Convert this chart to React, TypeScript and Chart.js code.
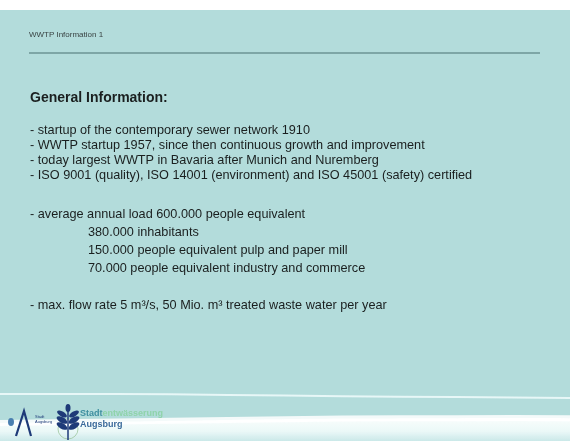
import React, { useEffect, useRef } from "react";
import { Chart, registerables } from "chart.js";

Chart.register(...registerables);

// decorative wave data (x position 0..10, height in % of slide from bottom)
const waveX = [0, 2, 4, 6, 8, 10];
const thinWave = [10.9, 10.9, 10.7, 10.4, 10.2, 10.0];
const bottomWave = [4.2, 4.5, 4.9, 5.2, 5.3, 5.3];

const headerText = "WWTP Information 1";
const titleText = "General Information:";
const bulletsA = [
  "- startup of the contemporary sewer network 1910",
  "- WWTP startup 1957, since then continuous growth and improvement",
  "- today largest WWTP in Bavaria after Munich and Nuremberg",
  "- ISO 9001 (quality), ISO 14001 (environment) and ISO 45001 (safety) certified",
];
const loadMain = "- average annual load 600.000 people equivalent";
const loadSub = [
  "380.000 inhabitants",
  "150.000 people equivalent pulp and paper mill",
  "70.000 people equivalent industry and commerce",
];
const flowText = "- max. flow rate 5 m³/s, 50 Mio. m³ treated waste water per year";

const SLIDE_W = 570;
const SLIDE_H = 431;
const BG = "#b3dcdb";
const FONT = "'Liberation Sans', Arial, sans-serif";
const TXT = "#1a1f1f";

function Line({ text, x, cy, size = 12.7, bold = false, color = TXT }: any) {
  return (
    <div
      style={{
        position: "absolute",
        left: x,
        top: cy - 10,
        height: 20,
        lineHeight: "20px",
        fontSize: size,
        fontWeight: bold ? 700 : 400,
        fontFamily: FONT,
        color,
        whiteSpace: "nowrap",
      }}
    >
      {text}
    </div>
  );
}

export default function App() {
  const ref = useRef<HTMLCanvasElement | null>(null);

  useEffect(() => {
    document.body.style.margin = "0";
    const canvas = ref.current!;
    const ctx = canvas.getContext("2d")!;
    const grad = ctx.createLinearGradient(0, SLIDE_H - 24, 0, SLIDE_H);
    grad.addColorStop(0, "rgba(255,255,255,0.95)");
    grad.addColorStop(0.6, "rgba(238,249,249,0.95)");
    grad.addColorStop(1, "rgba(205,234,234,0.9)");
    const chart = new Chart(canvas, {
      type: "line",
      data: {
        labels: waveX,
        datasets: [
          {
            data: waveX.map((x, i) => ({ x, y: bottomWave[i] })),
            borderColor: "rgba(255,255,255,0.85)",
            borderWidth: 6,
            backgroundColor: grad,
            fill: "start",
            tension: 0.4,
            pointRadius: 0,
          },
          {
            data: waveX.map((x, i) => ({ x, y: thinWave[i] })),
            borderColor: "rgba(236,250,250,0.9)",
            borderWidth: 2,
            fill: false,
            tension: 0.4,
            pointRadius: 0,
          },
        ],
      },
      options: {
        animation: false,
        responsive: false,
        maintainAspectRatio: false,
        layout: { padding: 0 },
        plugins: { legend: { display: false }, tooltip: { enabled: false }, title: { display: false } },
        scales: {
          x: { type: "linear", min: 0, max: 10, display: false },
          y: { min: 0, max: 100, display: false },
        },
      },
    });
    return () => chart.destroy();
  }, []);

  return (
    <div style={{ position: "relative", width: 587, height: 441, background: "#fff", overflow: "hidden" }}>
      <div style={{ position: "absolute", left: 0, top: 10, width: SLIDE_W, height: SLIDE_H, background: BG }}>
        <canvas ref={ref} width={SLIDE_W} height={SLIDE_H} style={{ position: "absolute", left: 0, top: 0 }} />
        <Line text={headerText} x={29} cy={25} size={8} color="#3a4444" />
        <div style={{ position: "absolute", left: 29, top: 42, width: 511, height: 2, background: "#7ea6a6" }} />
        <Line text={titleText} x={30} cy={87} size={14} bold />
        {bulletsA.map((t, i) => (
          <Line key={i} text={t} x={30} cy={120 + i * 15} />
        ))}
        <Line text={loadMain} x={30} cy={204} />
        {loadSub.map((t, i) => (
          <Line key={i} text={t} x={88} cy={222 + i * 18} />
        ))}
        <Line text={flowText} x={30} cy={295} />
        {/* logos */}
        <svg style={{ position: "absolute", left: 4, top: 388 }} width={80} height={45}>
          <ellipse cx={7} cy={24} rx={3} ry={4} fill="#4a7fb0" />
          <path d="M12 38 L20 13 L27 38" stroke="#1e3a78" strokeWidth={2.2} fill="none" />
          <text x={31} y={20} fontSize={4} fill="#1e3a78" fontFamily="Liberation Sans">Stadt</text>
          <text x={31} y={25} fontSize={4} fill="#1e3a78" fontFamily="Liberation Sans">Augsburg</text>
          <circle cx={64} cy={31} r={10} fill="none" stroke="#9fc6a0" strokeWidth={0.8} />
          <path d="M64 8 L64 42" stroke="#1e3a78" strokeWidth={1.5} />
          <ellipse cx={64} cy={10} rx={2.5} ry={4} fill="#1e3a78" />
          <ellipse cx={58} cy={16} rx={5.5} ry={2.5} fill="#1e3a78" transform="rotate(30 58 16)" />
          <ellipse cx={70} cy={16} rx={5.5} ry={2.5} fill="#1e3a78" transform="rotate(-30 70 16)" />
          <ellipse cx={58} cy={22} rx={6} ry={2.8} fill="#1e3a78" transform="rotate(30 58 22)" />
          <ellipse cx={70} cy={22} rx={6} ry={2.8} fill="#1e3a78" transform="rotate(-30 70 22)" />
          <ellipse cx={58} cy={28} rx={6} ry={2.8} fill="#1e3a78" transform="rotate(30 58 28)" />
          <ellipse cx={70} cy={28} rx={6} ry={2.8} fill="#1e3a78" transform="rotate(-30 70 28)" />
        </svg>
        <div style={{ position: "absolute", left: 80, top: 398, fontFamily: FONT, fontSize: 9, fontWeight: 700, lineHeight: "11px" }}>
          <span style={{ color: "#3f8fa0" }}>Stadt</span>
          <span style={{ color: "#8fd3aa" }}>entwässerung</span>
          <br />
          <span style={{ color: "#3a6a9a" }}>Augsburg</span>
        </div>
      </div>
    </div>
  );
}
